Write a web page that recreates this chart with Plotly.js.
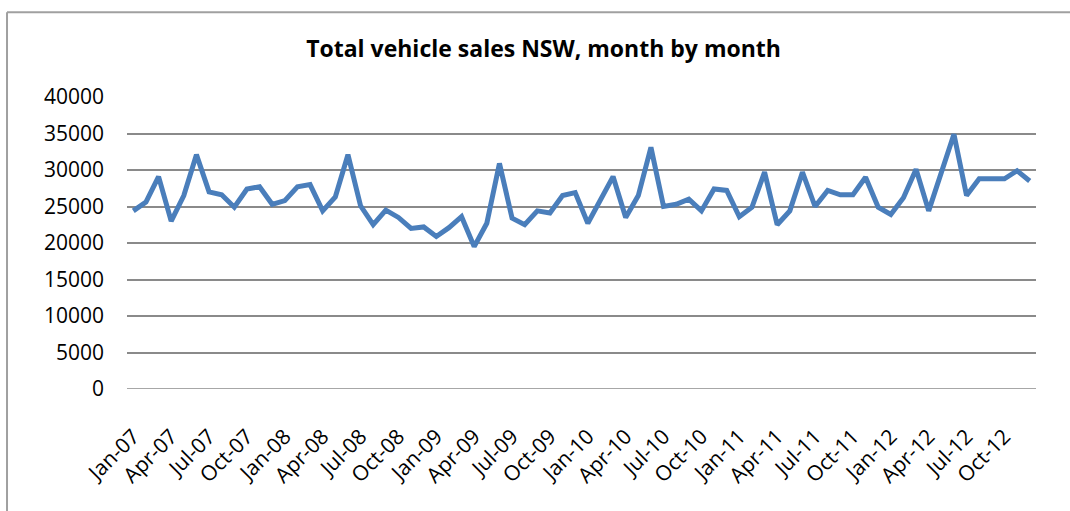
<!DOCTYPE html>
<html>
<head>
<meta charset="utf-8">
<script src="https://cdn.plot.ly/plotly-3.0.1.min.js"></script>
<style>
html,body{margin:0;padding:0;background:#fff;}
#chart{width:1070px;height:511px;}
</style>
</head>
<body>
<div id="chart"></div>
<script>
const months = ["Jan","Feb","Mar","Apr","May","Jun","Jul","Aug","Sep","Oct","Nov","Dec"];
const years = ["07","08","09","10","11","12"];
const categories = [];
years.forEach(y => months.forEach(m => categories.push(m + "-" + y)));

const sales2007 = [24400, 25600, 29100, 23000, 26500, 32100, 27000, 26600, 24900, 27400, 27700, 25300];
const sales2008 = [25800, 27700, 28000, 24400, 26300, 32100, 25100, 22500, 24500, 23500, 22000, 22200];
const sales2009 = [20900, 22100, 23600, 19500, 22700, 30900, 23400, 22500, 24400, 24100, 26500, 26900];
const sales2010 = [22700, 25800, 29100, 23500, 26500, 33100, 25000, 25300, 26000, 24400, 27400, 27200];
const sales2011 = [23600, 24900, 29700, 22500, 24400, 29700, 25000, 27200, 26600, 26600, 29000, 24900];
const sales2012 = [23900, 26200, 30100, 24400, 29700, 34900, 26500, 28800, 28800, 28800, 29900, 28500];
const sales = [].concat(sales2007, sales2008, sales2009, sales2010, sales2011, sales2012);

const tickLabels = categories.filter((c, i) => i % 3 === 0);

const trace = {
  x: categories,
  y: sales,
  type: "scatter",
  mode: "lines",
  line: {color: "#4a7ebb", width: 5},
  hoverinfo: "x+y"
};

const frameColor = "#a0a0a0";
const layout = {
  width: 1070,
  height: 511,
  margin: {l: 127, r: 34, t: 97, b: 122},
  paper_bgcolor: "#ffffff",
  plot_bgcolor: "#ffffff",
  showlegend: false,
  font: {family: "Open Sans, Liberation Sans, sans-serif", color: "#000000"},
  title: {
    text: "<b>Total vehicle sales NSW, month by month</b>",
    font: {family: "Open Sans, Liberation Sans, sans-serif", size: 23, color: "#000000"},
    xref: "container", x: 0.508, xanchor: "center",
    yref: "container", y: 0.905, yanchor: "middle"
  },
  xaxis: {
    type: "category",
    range: [-0.5, 71.5],
    tickmode: "array",
    tickvals: tickLabels,
    ticktext: tickLabels,
    tickangle: -45,
    tickfont: {size: 21},
    ticks: "",
    showgrid: false,
    zeroline: false,
    showline: false,
    ticklabelstandoff: 30
  },
  yaxis: {
    range: [0, 40000],
    tickmode: "array",
    tickvals: [0, 5000, 10000, 15000, 20000, 25000, 30000, 35000, 40000],
    ticktext: ["0", "5000", "10000", "15000", "20000", "25000", "30000", "35000", "40000"],
    tickfont: {size: 21},
    showgrid: true,
    gridcolor: "#8a8a8a",
    gridwidth: 1.5,
    zeroline: false,
    showline: false,
    ticks: "",
    ticklabelstandoff: 22
  },
  shapes: [
    {type: "line", xref: "paper", yref: "paper", x0: -0.132, x1: -0.132, y0: -0.5, y1: 1.29,
     line: {color: frameColor, width: 2}},
    {type: "line", xref: "paper", yref: "paper", x0: -0.132, x1: 1.2, y0: 1.29, y1: 1.29,
     line: {color: frameColor, width: 2}},
    {type: "line", xref: "paper", yref: "y", x0: 0, x1: 1, y0: 0, y1: 0,
     line: {color: "#8a8a8a", width: 1.5}, layer: "below"}
  ]
};

Plotly.newPlot("chart", [trace], layout, {displayModeBar: false, staticPlot: false});
</script>
</body>
</html>
